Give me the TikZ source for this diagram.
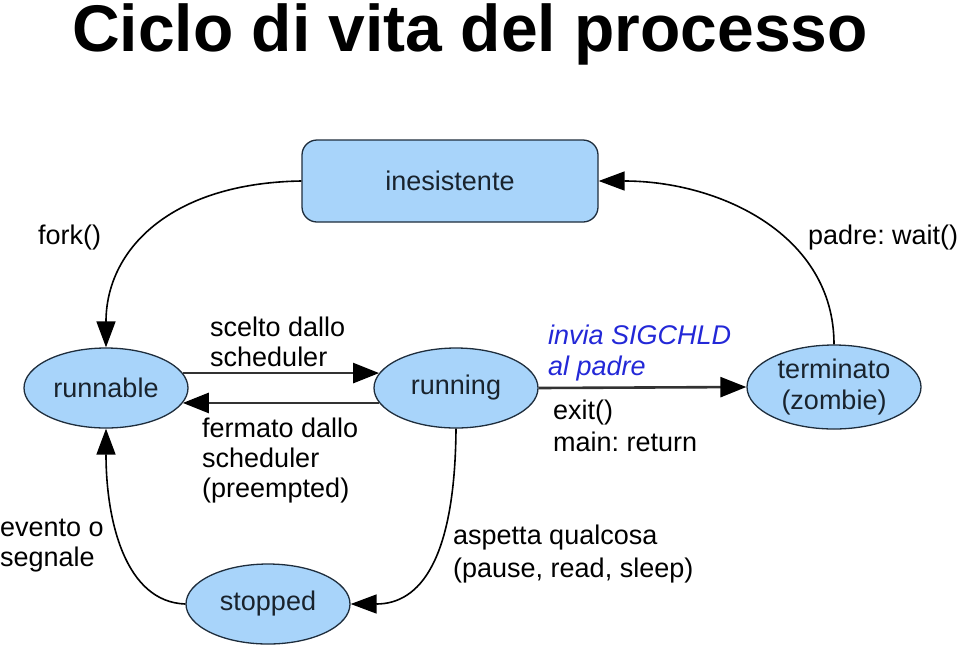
\documentclass[tikz,border=0pt]{standalone}
\usepackage{fontspec}
\setmainfont{Liberation Sans}
\usetikzlibrary{arrows.meta,shapes.geometric}
\definecolor{nodefill}{RGB}{168,212,250}
\definecolor{nodeline}{RGB}{30,45,60}
\definecolor{nodetext}{RGB}{25,35,45}
\definecolor{sigblue}{RGB}{35,40,215}
\definecolor{linegray}{RGB}{50,50,50}
\frenchspacing
\begin{document}
\begin{tikzpicture}[x=1pt,y=-1pt,
  state/.style={ellipse, draw=nodeline, line width=1.3pt, fill=nodefill, text=nodetext,
    minimum width=164pt, minimum height=80pt, inner sep=0pt,
    font=\fontsize{27}{31}\selectfont, align=center},
  boxstate/.style={rectangle, rounded corners=15pt, draw=nodeline, line width=1.3pt, fill=nodefill,
    text=nodetext, minimum width=296pt, minimum height=82pt, inner sep=0pt,
    font=\fontsize{27}{31}\selectfont},
  lbl/.style={anchor=north west, inner sep=0pt, align=left, font=\fontsize{27}{30}\selectfont},
  curve/.style={draw=black, line width=1.6pt, -{Triangle[length=26pt 0 0,width=19pt 0 0,color=black]}},
  straight/.style={draw=linegray, line width=2.6pt, -{Triangle[length=26pt 0 0,width=20pt 0 0,color=black]}}
]
\useasboundingbox (0,0) rectangle (960,649);

\node[font=\fontsize{66}{70}\selectfont\bfseries, anchor=base, inner sep=0pt] (title) at (470,51) {Ciclo di vita del processo};

\node[boxstate] (ines) at (450,181) {inesistente};
\node[state] (runnable) at (106,388) {runnable};
\node[state] (running) at (456,388) {running};
\node[state, minimum width=174pt, minimum height=84pt] (term) at (834,387) {terminato\\(zombie)};
\node[state] (stopped) at (268,604) {stopped};

% connectors
\draw[curve] (ines.west) .. controls (170,183) and (106,250) .. (runnable.north);
\draw[curve] (term.north) .. controls (834,235) and (720,181) .. (ines.east);
\draw[straight] (runnable.11) -- (running.169);
\draw[straight] (running.191) -- (runnable.-11);
\draw[straight] (running.east) -- (term.west);
\draw[curve] (running.south) .. controls (455,560) and (420,604) .. (stopped.east);
\draw[curve] (stopped.west) .. controls (125,602) and (106,520) .. (runnable.south);

% labels
\node[lbl] (lfork) at (38,225) {fork()};
\node[lbl] (lwait) at (808,225) {padre: wait()};
\node[lbl] (lscelto) at (210,317) {scelto dallo\\scheduler};
\node[lbl] (lfermato) at (202,418) {fermato dallo\\scheduler\\(preempted)};
\node[lbl, text=sigblue, font=\fontsize{27}{31}\selectfont\itshape] (lsig) at (548,325) {invia SIGCHLD\\al padre};
\node[lbl, font=\fontsize{27}{32}\selectfont] (lexit) at (553,400) {exit()\\main: return};
\node[lbl] (levento) at (0,519) {evento o\\segnale};
\node[lbl, font=\fontsize{27}{33}\selectfont] (laspetta) at (453,525) {aspetta qualcosa\\(pause, read, sleep)};
\end{tikzpicture}
\end{document}
